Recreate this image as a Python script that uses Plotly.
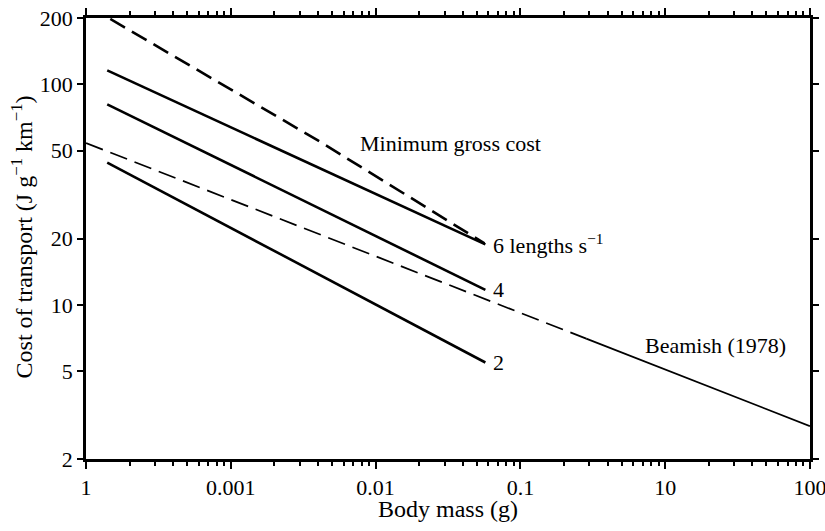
import plotly.graph_objects as go
import math

# ---- data ----
speed_labels = ["6 lengths s<sup>\u22121</sup>", "4", "2"]
speed_x = [[1.40e-4, 0.0573], [1.40e-4, 0.0573], [1.40e-4, 0.0573]]
speed_y = [[115.7, 18.8], [81.2, 11.7], [44.2, 5.48]]

min_gross_x = [1.47e-4, 0.00418, 0.0565]
min_gross_y = [198, 54.7, 19.0]

beamish_dash_x = [1.0e-4, 0.285]
beamish_dash_y = [54.2, 7.03]
beamish_solid_x = [0.285, 10.0]
beamish_solid_y = [7.03, 2.82]

x_tickvals = [1e-4, 1e-3, 1e-2, 1e-1, 1, 10]
x_ticktext = ["1", "0.001", "0.01", "0.1", "10", "100"]
y_tickvals = [2, 5, 10, 20, 50, 100, 200]
y_ticktext = ["2", "5", "10", "20", "50", "100", "200"]

FONT = "Liberation Serif, Times New Roman, serif"
FS = 22
FT = 24

fig = go.Figure()

for lab, xs, ys in zip(speed_labels, speed_x, speed_y):
    fig.add_trace(go.Scatter(x=xs, y=ys, mode="lines",
                             line=dict(color="black", width=2.6),
                             showlegend=False, hoverinfo="skip"))
    fig.add_annotation(x=math.log10(xs[-1]), y=math.log10(ys[-1]),
                       xref="x", yref="y", text=lab, showarrow=False,
                       xanchor="left", yanchor="middle", xshift=6,
                       font=dict(family=FONT, size=FS, color="black"))

fig.add_trace(go.Scatter(x=min_gross_x, y=min_gross_y, mode="lines",
                         line=dict(color="black", width=2.6, dash="17px,8px"),
                         showlegend=False, hoverinfo="skip"))
fig.add_trace(go.Scatter(x=beamish_dash_x, y=beamish_dash_y, mode="lines",
                         line=dict(color="black", width=1.7, dash="18px,8px"),
                         showlegend=False, hoverinfo="skip"))
fig.add_trace(go.Scatter(x=beamish_solid_x, y=beamish_solid_y, mode="lines",
                         line=dict(color="black", width=1.7),
                         showlegend=False, hoverinfo="skip"))

fig.add_annotation(x=0.375, y=0.715, xref="paper", yref="paper",
                   text="Minimum gross cost", showarrow=False,
                   xanchor="left", yanchor="middle",
                   font=dict(family=FONT, size=FS, color="black"))
fig.add_annotation(x=0.770, y=0.258, xref="paper", yref="paper",
                   text="Beamish (1978)", showarrow=False,
                   xanchor="left", yanchor="middle",
                   font=dict(family=FONT, size=FS, color="black"))
fig.add_annotation(x=0.5, y=-0.113, xref="paper", yref="paper",
                   text="Body mass (g)", showarrow=False,
                   xanchor="center", yanchor="middle",
                   font=dict(family=FONT, size=FT, color="black"))
fig.add_annotation(x=-0.088, y=0.503, xref="paper", yref="paper",
                   text="Cost of transport (J g<sup>\u22121</sup> km<sup>\u22121</sup>)",
                   showarrow=False, textangle=-90,
                   xanchor="center", yanchor="middle",
                   font=dict(family=FONT, size=FT, color="black"))

minor_x = [k * 10 ** e for e in range(-4, 1) for k in range(2, 10)]

fig.update_xaxes(type="log", range=[-4.0005, 1.0005], tickmode="array",
                 tickvals=x_tickvals, ticktext=x_ticktext,
                 showline=True, linecolor="black", linewidth=2.5,
                 mirror="allticks", ticks="outside", ticklen=7, tickwidth=2,
                 tickcolor="black", showgrid=False, zeroline=False,
                 ticklabeloverflow="allow",
                 tickfont=dict(family=FONT, size=FS, color="black"),
                 minor=dict(tickmode="array", tickvals=minor_x, ticks="outside",
                            ticklen=4, tickwidth=1.5, tickcolor="black", showgrid=False),
                 automargin=False)
fig.update_yaxes(type="log", range=[math.log10(2), math.log10(200)], tickmode="array",
                 tickvals=y_tickvals, ticktext=y_ticktext,
                 showline=True, linecolor="black", linewidth=2.5,
                 mirror="allticks", ticks="outside", ticklen=6, tickwidth=2,
                 tickcolor="black", showgrid=False, zeroline=False,
                 ticklabeloverflow="allow",
                 tickfont=dict(family=FONT, size=FS, color="black"),
                 automargin=False)

fig.update_layout(width=825, height=531,
                  margin=dict(l=86, r=15, t=18, b=72),
                  paper_bgcolor="white", plot_bgcolor="white",
                  font=dict(family=FONT, size=FS, color="black"))

fig.write_html("out.html")
